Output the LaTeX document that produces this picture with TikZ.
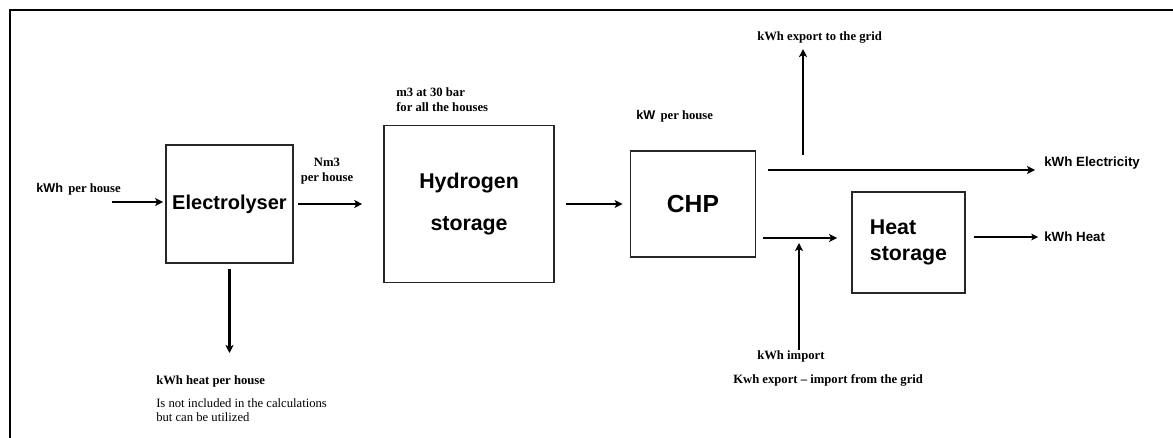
\documentclass[tikz,border=0pt]{standalone}
\usepackage{fontspec}
\setmainfont{Liberation Serif}
\setsansfont{Liberation Sans}
\usetikzlibrary{arrows.meta,positioning,calc}

\begin{document}
\begin{tikzpicture}[
    x=0.75pt, y=-0.75pt,
    box/.style={rectangle, draw=black!85, line width=1.3pt, inner sep=0pt, align=center},
    arrow/.style={->,>={Stealth[length=6pt, width=6pt, inset=1.5pt]}, line width=1.7pt},
    thinarrow/.style={->,>={Stealth[length=5pt, width=5pt, inset=1.2pt]}, line width=1.1pt},
    lbl/.style={inner sep=0pt, align=left, font=\bfseries\fontsize{9.5}{11.25}\selectfont},
    slbl/.style={inner sep=0pt, font=\sffamily\bfseries\fontsize{10}{12}\selectfont}
]
    \useasboundingbox (0,0) rectangle (1173,438);
    \draw[line width=2.2pt] (10,438) -- (10,10) -- (1173,10);

    \node[box, minimum width=95.25pt, minimum height=88.5pt, font=\sffamily\bfseries\fontsize{15}{18}\selectfont] (elec) at (229.5,204) {Electrolyser};
    \node[box, right=67pt of elec, minimum width=127.5pt, minimum height=117.75pt, font=\sffamily\bfseries\fontsize{16}{19}\selectfont] (hyd) {Hydrogen\\[12pt]storage};
    \node[box, right=56pt of hyd, minimum width=93.75pt, minimum height=79.5pt, font=\sffamily\bfseries\fontsize{18.5}{22}\selectfont] (chp) {CHP};
    \node[box, minimum width=84.75pt, minimum height=75.75pt, align=left, font=\sffamily\bfseries\fontsize{16}{20}\selectfont] (heat) at (908.5,242.5) {Heat\\storage};

    % labels
    \node[lbl, anchor=west] (inlbl) at (36,189) {{\sffamily kWh}\hspace{4pt}per house};
    \node[lbl, align=center] (nm) at (327,171) {Nm3\\per house};
    \node[lbl, anchor=west] (bar) at (396,99.5) {m3 at 30 bar\\for all the houses};
    \node[lbl, anchor=west] (kw) at (636,116) {{\sffamily kW}\hspace{4pt}per house};
    \node[lbl, anchor=west] (heatlbl) at (156,381) {kWh heat per house};
    \node[inner sep=0pt, anchor=north west, align=left, font=\fontsize{9.5}{10.5}\selectfont] (note) at (156,398) {Is not included in the calculations\\but can be utilized};
    \node[lbl, anchor=west] (export) at (757,38) {kWh export to the grid};
    \node[lbl, anchor=west] (import) at (757,356) {kWh import};
    \node[lbl, anchor=west] (grid) at (733,380) {Kwh export -- import from the grid};
    \node[slbl, anchor=west] (electricity) at (1044,163) {kWh Electricity};
    \node[slbl, anchor=west] (heatout) at (1044,237) {kWh Heat};

    % free ends
    \coordinate (in) at (112,202);
    \coordinate (eheat) at (229.5,353);
    \coordinate (eout) at (768,170);
    \coordinate (jexp) at (803,155);
    \coordinate (hout) at (763,238);
    \coordinate (jimp) at (799,243);

    \draw[arrow, shorten >=1.5pt] (in) -- (in -| elec.west);
    \draw[arrow, shorten <=3pt, shorten >=15.75pt] (elec.east) -- (elec.east -| hyd.west);
    \draw[arrow, shorten <=3.75pt] (elec.south) -- (eheat);
    \draw[arrow, shorten <=8.25pt, shorten >=5.25pt] (hyd.east) -- (hyd.east -| chp.west);
    \draw[arrow, shorten >=6.75pt] (eout) -- (eout -| electricity.west);
    \draw[arrow, shorten >=3.75pt] (jexp) -- (jexp |- export.south);
    \draw[arrow, shorten >=10.5pt] (hout) -- (hout -| heat.west);
    \draw[arrow] (jimp |- import.north) -- (jimp);
    \draw[thinarrow, shorten <=6pt, shorten >=4.5pt] (heat.east |- heatout.west) -- (heatout.west);
\end{tikzpicture}
\end{document}
